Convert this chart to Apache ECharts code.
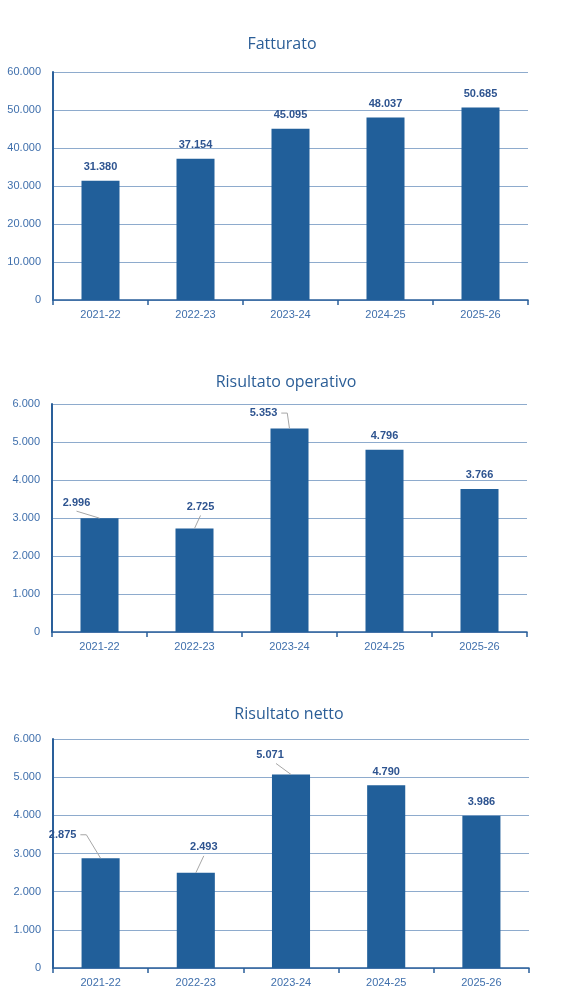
<!DOCTYPE html>
<html><head><meta charset="utf-8">
<script src="https://cdn.jsdelivr.net/npm/echarts@6/dist/echarts.min.js"></script>
<style>html,body{margin:0;padding:0;background:#fff}#c{width:579px;height:1006px}</style>
</head><body><div id="c"></div>
<script>
// ---- data ----
const categories = ['2021-22', '2022-23', '2023-24', '2024-25', '2025-26'];
const fatturato = [31380, 37154, 45095, 48037, 50685];
const risultatoOperativo = [2996, 2725, 5353, 4796, 3766];
const risultatoNetto = [2875, 2493, 5071, 4790, 3986];
const chartTitles = ['Fatturato', 'Risultato operativo', 'Risultato netto'];
const yMax = [60000, 6000, 6000];
const yInterval = [10000, 1000, 1000];

// ---- layout / style config ----
const seriesValues = [fatturato, risultatoOperativo, risultatoNetto];
const layout = [
  { titleX: 282, titleY: 36, grid: { left: 53, top: 72, width: 475, height: 228 } },
  { titleX: 286, titleY: 374, grid: { left: 52, top: 404, width: 475, height: 228 } },
  { titleX: 289, titleY: 706, grid: { left: 53, top: 739, width: 476, height: 229 } }
];
// label displacement: [dx, dy, leader kind, leader start x shift]
const labelMoves = [
  {},
  { 0: [-23, -2, 'down', 0], 1: [6, -8, 'down', 0], 2: [-26, -2, 'elbow', 0] },
  { 0: [-38, -10, 'elbow', 0], 1: [8, -12, 'down', 0], 2: [-21, -6, 'down', 6] }
];
const BAR = '#215f9a', AXIS = '#2a5f9a', GRID = '#8eabcd', TXT = '#3f6fac', LBL = '#2e5490', LEAD = '#a6a6a6';
const LABEL_FONT = 11, LABEL_DIST = 8;

function fmt(v) { return String(Math.round(v)).replace(/\B(?=(\d{3})+(?!\d))/g, '.'); }
const mctx = document.createElement('canvas').getContext('2d');
mctx.font = 'bold ' + LABEL_FONT + 'px Arial';
function textW(t) { return mctx.measureText(t).width; }

const option = { animation: false, title: [], grid: [], xAxis: [], yAxis: [], series: [] };

seriesValues.forEach(function (values, i) {
  const L = layout[i];
  const moves = labelMoves[i];
  option.title.push({
    text: chartTitles[i], left: L.titleX, top: L.titleY, textAlign: 'center', padding: 0,
    textStyle: { fontFamily: 'Open Sans', fontSize: 16, fontWeight: 'normal', color: '#2b5e97' }
  });
  option.grid.push(Object.assign({ containLabel: false }, L.grid));
  option.xAxis.push({
    type: 'category', gridIndex: i, data: categories,
    axisLine: { show: true, lineStyle: { color: AXIS, width: 1.5 } },
    axisTick: { show: true, length: 5, lineStyle: { color: AXIS, width: 1.5 } },
    axisLabel: { fontFamily: 'Arial', fontSize: 11, color: TXT, margin: 9 }
  });
  option.yAxis.push({
    type: 'value', gridIndex: i, min: 0, max: yMax[i], interval: yInterval[i],
    axisLine: { show: true, lineStyle: { color: AXIS, width: 2 } },
    axisTick: { show: false },
    splitLine: { show: true, lineStyle: { color: GRID, width: 1 } },
    axisLabel: { fontFamily: 'Arial', fontSize: 11, color: TXT, margin: 12, formatter: fmt }
  });
  option.series.push({
    type: 'bar', xAxisIndex: i, yAxisIndex: i, barWidth: '40%',
    itemStyle: { color: BAR },
    label: {
      show: true, position: 'top', distance: LABEL_DIST,
      fontFamily: 'Arial', fontSize: LABEL_FONT, fontWeight: 'bold', color: LBL,
      formatter: function (p) { return fmt(p.value); }
    },
    data: values.map(function (v, j) {
      const m = moves[j];
      return m ? { value: v, label: { offset: [m[0], m[1]] } } : v;
    }),
    z: 2
  });
  const moveIdx = Object.keys(moves).map(Number);
  option.series.push({
    type: 'custom', xAxisIndex: i, yAxisIndex: i, silent: true, z: 3,
    data: moveIdx.map(function (j) { return [j, values[j]]; }),
    renderItem: function (params, api) {
      const j = moveIdx[params.dataIndex];
      const m = moves[j];
      const v = api.value(1);
      const pt = api.coord([api.value(0), v]);
      const half = LABEL_FONT / 2;
      const lc = [pt[0] + m[0], pt[1] - LABEL_DIST - half + m[1]];
      const w = textW(fmt(v));
      let pts;
      if (m[2] === 'elbow') {
        const sx = lc[0] + w / 2 + 4;
        pts = [[sx, lc[1]], [sx + 6, lc[1]], [pt[0], pt[1]]];
      } else {
        pts = [[lc[0] + m[3], lc[1] + half + 3], [pt[0], pt[1]]];
      }
      return { type: 'polyline', shape: { points: pts }, style: { stroke: LEAD, lineWidth: 1, fill: null } };
    }
  });
});

const chart = echarts.init(document.getElementById('c'), null, { renderer: 'canvas' });
chart.setOption(option);
</script>
</body></html>
